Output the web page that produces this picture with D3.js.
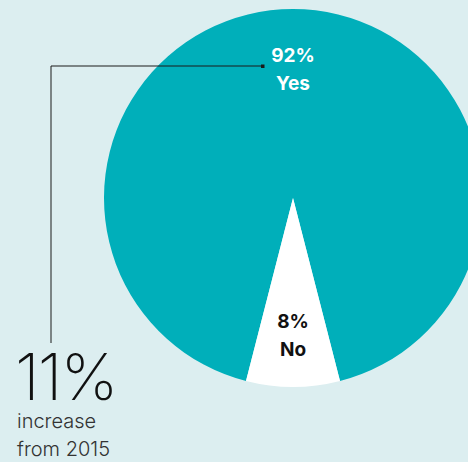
<!DOCTYPE html>
<html>
<head>
  <meta charset="utf-8">
  <style>
    body { margin: 0; background-color: #dceef0; }
    svg { display: block; }
  </style>
</head>
<body>
  <div id="chart_pie"></div>
  <script src="https://d3js.org/d3.v7.min.js"></script>
  <script>
    var categories = ["Yes", "No"]
    var values = [92, 8]
    var colors = ["#00afba", "#ffffff"]
    var labelColors = ["#ffffff", "#111111"]
    var callout = {value: "11%", line1: "increase", line2: "from 2015"}

    var width = 468, height = 462
    var cx = 293, cy = 198, radius = 189

    var svg = d3.select("#chart_pie")
        .append("svg")
        .attr("width", width)
        .attr("height", height)

    svg.append("rect")
        .attr("width", width)
        .attr("height", height)
        .attr("fill", "#dceef0")

    var data = categories.map(function (c, i) {
      return {key: c, value: values[i], color: colors[i], labelColor: labelColors[i]}
    })

    // "No" slice centered on the bottom of the pie
    var noAngle = values[1] / d3.sum(values) * 2 * Math.PI
    var start = Math.PI + noAngle / 2

    var pie = d3.pie()
        .sort(null)
        .value(d => d.value)
        .startAngle(start)
        .endAngle(start + 2 * Math.PI)

    var arc = d3.arc().innerRadius(0).outerRadius(radius)

    var g = svg.append("g")
        .attr("transform", "translate(" + cx + "," + cy + ")")

    g.selectAll("path")
        .data(pie(data))
        .enter()
        .append("path")
        .attr("d", arc)
        .attr("fill", d => d.data.color)

    // labels
    var labelPos = {Yes: -136, No: 130}
    var labels = g.selectAll("text.lbl")
        .data(data)
        .enter()
        .append("text")
        .attr("class", "lbl")
        .attr("text-anchor", "middle")
        .attr("fill", d => d.labelColor)
        .style("font-family", "Inter, 'Liberation Sans', sans-serif")
        .style("font-weight", "700")
        .style("font-size", "19px")
    labels.append("tspan")
        .attr("x", 0)
        .attr("y", d => labelPos[d.key])
        .text(d => d.value + "%")
    labels.append("tspan")
        .attr("x", 0)
        .attr("dy", 27.5)
        .text(d => d.key)

    // callout line
    svg.append("path")
        .attr("d", "M51,343V66H263")
        .attr("fill", "none")
        .attr("stroke", "#1a1a1a")
        .attr("stroke-width", 1)
    svg.append("rect")
        .attr("x", 261)
        .attr("y", 64.5)
        .attr("width", 3.5)
        .attr("height", 3.5)
        .attr("fill", "#1a1a1a")

    svg.append("text")
        .attr("x", 15)
        .attr("y", 400)
        .attr("fill", "#111")
        .style("font-family", "Inter, 'Liberation Sans', sans-serif")
        .style("font-weight", "200")
        .style("font-size", "65px")
        .style("letter-spacing", "-2px")
        .text(callout.value)

    svg.append("text")
        .attr("x", 17)
        .attr("y", 428)
        .attr("fill", "#333")
        .style("font-family", "Inter, 'Liberation Sans', sans-serif")
        .style("font-weight", "300")
        .style("font-size", "20px")
        .text(callout.line1)

    svg.append("text")
        .attr("x", 17)
        .attr("y", 456)
        .attr("fill", "#333")
        .style("font-family", "Inter, 'Liberation Sans', sans-serif")
        .style("font-weight", "300")
        .style("font-size", "20px")
        .text(callout.line2)
  </script>
</body>
</html>
